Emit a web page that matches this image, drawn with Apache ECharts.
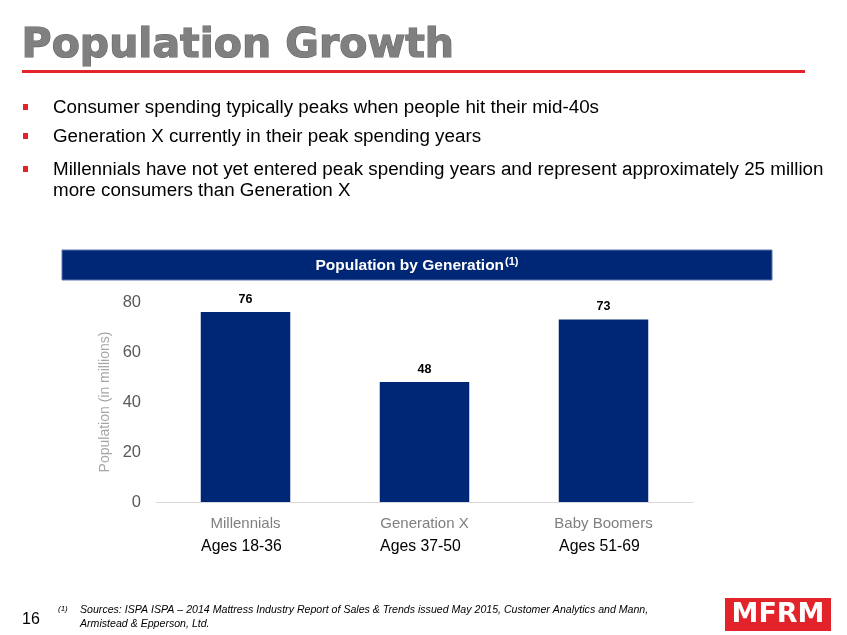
<!DOCTYPE html>
<html>
<head>
<meta charset="utf-8">
<script src="https://cdn.jsdelivr.net/npm/echarts@6/dist/echarts.min.js"></script>
<style>
  html, body { margin: 0; padding: 0; background: #fff; }
  #main { width: 847px; height: 635px; }
</style>
</head>
<body>
<div id="main"></div>
<script>
// chart data
var generations = ['Millennials', 'Generation X', 'Baby Boomers'];
var ageRanges = ['Ages 18-36', 'Ages 37-50', 'Ages 51-69'];
var population = [76, 48, 73];
var yTicks = [0, 20, 40, 60, 80];

var bullets = [
    ['Consumer spending typically peaks when people hit their mid-40s'],
    ['Generation X currently in their peak spending years'],
    ['Millennials have not yet entered peak spending years and represent approximately 25 million',
     'more consumers than Generation X']
];

var NAVY = '#002776';
var RED = '#e3232a';
var FONT = '"Liberation Sans", Arial, sans-serif';

var myChart = echarts.init(document.getElementById('main'), null, {renderer: 'canvas'});

// slide text built from graphic elements
var graphics = [];
graphics.push({
    type: 'text', left: 21, top: 25,
    style: {
        text: 'Population Growth', fill: '#808080',
        font: '900 41px "DejaVu Sans", sans-serif',
        stroke: '#666', lineWidth: 1.2
    }
});
graphics.push({
    type: 'rect', shape: {x: 22, y: 70, width: 783, height: 3},
    style: {fill: RED}
});
var bulletY = [108, 137, 170];
bullets.forEach(function (lines, i) {
    graphics.push({
        type: 'rect', shape: {x: 23, y: bulletY[i] - 4, width: 5, height: 6},
        style: {fill: RED}
    });
    graphics.push({
        type: 'text', x: 53, y: bulletY[i] - 11,
        style: {
            text: lines.join('\n'), fill: '#000',
            font: '18.8px ' + FONT, lineHeight: 21,
            verticalAlign: 'top'
        }
    });
});
// header bar
graphics.push({
    type: 'rect', shape: {x: 62, y: 250, width: 710, height: 30},
    style: {fill: NAVY, stroke: '#5b77b0', lineWidth: 1}
});
graphics.push({
    type: 'text', x: 417, y: 266,
    style: {
        text: '{t|Population by Generation}{s|(1)}',
        align: 'center', verticalAlign: 'middle',
        rich: {
            t: {fill: '#fff', font: 'bold 15.5px ' + FONT},
            s: {fill: '#fff', font: 'bold 11px ' + FONT, verticalAlign: 'top', padding: [0, 0, 8, 1]}
        }
    }
});
// footer
graphics.push({
    type: 'text', x: 22, y: 620,
    style: {text: '16', fill: '#000', font: '16px ' + FONT, verticalAlign: 'middle'}
});
graphics.push({
    type: 'text', x: 58, y: 609,
    style: {text: '(1)', fill: '#000', font: 'italic 8px ' + FONT, verticalAlign: 'middle'}
});
graphics.push({
    type: 'text', x: 80, y: 617,
    style: {
        text: 'Sources: ISPA ISPA \u2013 2014 Mattress Industry Report of Sales & Trends issued May 2015, Customer Analytics and Mann,\nArmistead & Epperson, Ltd.',
        fill: '#000', font: 'italic 10.6px ' + FONT, lineHeight: 14, verticalAlign: 'middle'
    }
});
graphics.push({
    type: 'rect', shape: {x: 725, y: 598, width: 106, height: 33},
    style: {fill: RED}
});
graphics.push({
    type: 'text', x: 778, y: 615,
    style: {
        text: 'MFRM', fill: '#fff', align: 'center', verticalAlign: 'middle',
        font: '900 27px "DejaVu Sans", sans-serif'
    }
});

var option = {
    animation: false,
    backgroundColor: '#fff',
    graphic: graphics,
    grid: {left: 156, right: 154, top: 302, bottom: 133},
    xAxis: {
        type: 'category',
        data: generations,
        axisTick: {show: false},
        axisLine: {lineStyle: {color: '#d9d9d9', width: 1}},
        axisLabel: {
            margin: 11,
            formatter: function (val, idx) {
                return '{a|' + val + '}\n{b|' + ageRanges[idx] + '}';
            },
            rich: {
                a: {color: '#7f7f7f', fontSize: 15, fontFamily: FONT, lineHeight: 22},
                b: {color: '#000', fontSize: 15.8, fontFamily: FONT, lineHeight: 23, padding: [0, 8, 0, 0]}
            }
        }
    },
    yAxis: {
        type: 'value',
        min: yTicks[0],
        max: yTicks[yTicks.length - 1],
        interval: 20,
        name: 'Population (in millions)',
        nameLocation: 'middle',
        nameGap: 44,
        nameTextStyle: {color: '#a6a6a6', fontSize: 14, fontFamily: FONT},
        axisLine: {show: false},
        axisTick: {show: false},
        splitLine: {show: false},
        axisLabel: {color: '#595959', fontSize: 16.5, fontFamily: FONT, margin: 15}
    },
    series: [{
        type: 'bar',
        data: population,
        barWidth: '50%',
        itemStyle: {color: NAVY},
        label: {
            show: true, position: 'top', distance: 6,
            color: '#000', fontWeight: 'bold', fontSize: 12.5, fontFamily: FONT
        }
    }]
};

myChart.setOption(option);
</script>
</body>
</html>
